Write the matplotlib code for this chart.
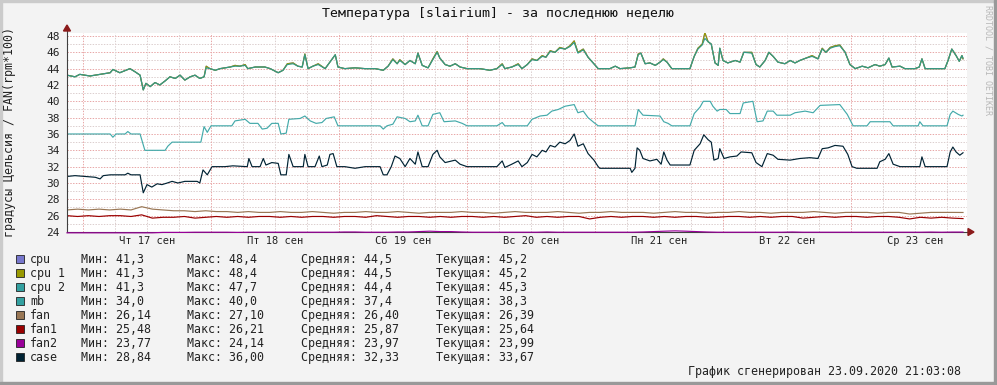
import numpy as np
import matplotlib
matplotlib.use('Agg')
import matplotlib.pyplot as plt
from matplotlib.patches import Rectangle, Polygon

plt.rcParams['font.family'] = ['DejaVu Sans Mono', 'DejaVu Sans']

# время в часах от начала окна (16.09 21:03)
FIRST_MIDNIGHT = 2.95
days = ['Чт 17 сен', 'Пт 18 сен', 'Сб 19 сен', 'Вс 20 сен', 'Пн 21 сен', 'Вт 22 сен', 'Ср 23 сен']

t_cpu = [0, 1.5, 2.4, 4.3, 6.2, 8.1, 8.6, 9.9, 11.8, 12.8,
         13.7, 14.3, 14.8, 15.6, 16.5, 17.4, 18.4, 19.3, 20.3, 21.2,
         22.1, 23.1, 24.0, 24.9, 25.7, 26.1, 26.8, 27.8, 28.7, 30.6,
         31.5, 32.4, 33.4, 33.9, 35.3, 37.1, 38.1, 39.6, 40.5, 41.3,
         42.4, 43.3, 44.1, 44.6, 45.2, 46.1, 47.1, 48.4, 49.3, 50.3,
         50.8, 52.1, 54.0, 55.9, 57.8, 59.3, 60.2, 61.1, 61.9, 62.4,
         63.4, 64.3, 65.3, 65.8, 66.6, 67.7, 68.6, 69.4, 69.9, 70.9,
         71.8, 72.8, 73.7, 75.0, 77.4, 79.3, 80.6, 81.6, 82.1, 83.4,
         84.6, 85.3, 86.3, 87.2, 88.1, 89.1, 89.8, 90.6, 91.5, 92.4,
         93.4, 94.3, 95.1, 95.8, 96.8, 97.7, 98.8, 99.6, 101.8, 102.8,
         103.7, 105.6, 106.5, 107.1, 107.6, 108.4, 109.3, 110.3, 111.2, 111.8,
         112.5, 113.4, 116.8, 117.6, 118.3, 119.1, 119.6, 120.2, 120.8, 121.5,
         122.1, 122.4, 123.0, 123.9, 125.3, 126.2, 126.9, 128.4, 129.2, 129.9,
         130.9, 131.6, 132.4, 133.3, 134.6, 135.6, 136.5, 137.4, 138.6, 139.7,
         140.8, 141.6, 142.3, 143.1, 144.0, 144.9, 145.9, 146.8, 147.8, 149.1,
         150.2, 151.5, 152.4, 153.4, 154.1, 154.7, 156.2, 157.1, 159.0, 159.8,
         160.3, 160.9, 162.8, 164.6, 165.2, 165.9, 166.7, 167.3, 167.8, 168.0]
cpu = [43.2, 43.0, 43.3, 43.1, 43.3, 43.5, 43.9, 43.5, 44.0, 43.6,
       43.2, 41.4, 42.2, 41.8, 42.3, 42.0, 42.5, 43.0, 42.8, 43.2,
       42.6, 43.0, 43.2, 42.8, 43.0, 44.3, 44.0, 43.8, 44.0, 44.2,
       44.4, 44.3, 44.5, 44.0, 44.2, 44.2, 44.0, 43.5, 43.8, 44.6,
       44.7, 44.3, 44.2, 45.8, 44.0, 44.3, 44.6, 44.0, 44.8, 45.7,
       44.2, 44.0, 44.1, 44.0, 44.0, 43.8, 44.3, 45.2, 44.6, 45.1,
       44.5, 45.0, 44.6, 45.9, 44.4, 44.1, 45.2, 46.1, 45.3, 44.5,
       44.3, 44.6, 44.2, 44.0, 44.0, 43.8, 44.0, 44.6, 44.0, 44.2,
       44.6, 44.0, 44.5, 45.2, 45.0, 45.6, 45.4, 46.2, 46.0, 46.6,
       46.4, 46.8, 47.4, 46.0, 46.4, 45.4, 44.6, 44.0, 44.0, 44.3,
       44.0, 44.1, 44.2, 45.8, 45.9, 44.6, 44.7, 44.4, 44.8, 45.2,
       44.8, 44.0, 44.0, 45.5, 46.5, 47.0, 48.4, 47.3, 47.0, 44.7,
       44.4, 46.5, 45.0, 44.7, 45.0, 44.8, 46.0, 46.0, 44.5, 44.2,
       45.0, 46.0, 45.5, 44.8, 44.6, 45.0, 44.7, 45.0, 45.3, 45.6,
       45.2, 46.5, 46.0, 46.6, 46.8, 46.9, 46.0, 44.5, 44.0, 44.3,
       44.1, 44.5, 44.3, 44.5, 45.3, 44.2, 44.3, 44.0, 44.0, 44.2,
       45.2, 44.0, 44.0, 44.0, 45.0, 46.4, 45.6, 44.9, 45.6, 45.2]
cpu_1 = list(cpu)
cpu_2 = [43.2, 43.0, 43.3, 43.1, 43.3, 43.5, 43.9, 43.5, 44.0, 43.6,
         43.2, 41.4, 42.2, 41.8, 42.3, 42.0, 42.5, 43.0, 42.8, 43.2,
         42.6, 43.0, 43.2, 42.8, 43.0, 44.1, 44.0, 43.8, 44.0, 44.2,
         44.3, 44.3, 44.4, 44.0, 44.2, 44.2, 44.0, 43.5, 43.8, 44.5,
         44.6, 44.3, 44.2, 45.7, 44.0, 44.3, 44.5, 44.0, 44.8, 45.7,
         44.2, 44.0, 44.1, 44.0, 44.0, 43.8, 44.3, 45.1, 44.6, 45.0,
         44.5, 45.0, 44.6, 45.9, 44.4, 44.1, 45.1, 46.0, 45.3, 44.5,
         44.3, 44.6, 44.2, 44.0, 44.0, 43.8, 44.0, 44.5, 44.0, 44.2,
         44.5, 44.0, 44.5, 45.1, 45.0, 45.5, 45.4, 46.1, 46.0, 46.5,
         46.4, 46.7, 47.2, 45.9, 46.3, 45.4, 44.6, 44.0, 44.0, 44.3,
         44.0, 44.1, 44.2, 45.7, 45.9, 44.6, 44.7, 44.4, 44.8, 45.1,
         44.8, 44.0, 44.0, 45.5, 46.4, 46.9, 47.7, 47.3, 47.0, 44.7,
         44.4, 46.5, 45.0, 44.7, 45.0, 44.8, 46.0, 45.9, 44.5, 44.2,
         45.0, 46.0, 45.5, 44.8, 44.6, 45.0, 44.7, 45.0, 45.3, 45.5,
         45.2, 46.4, 46.0, 46.5, 46.7, 46.8, 46.0, 44.5, 44.0, 44.3,
         44.1, 44.5, 44.3, 44.5, 45.3, 44.2, 44.3, 44.0, 44.0, 44.2,
         45.2, 44.0, 44.0, 44.0, 45.0, 46.4, 45.6, 44.9, 45.6, 45.3]

t_mb = [0, 8.1, 8.6, 9.2, 10.9, 11.4, 12.0, 13.7, 14.6, 18.4,
        18.9, 19.7, 25.1, 25.7, 26.3, 27.0, 30.9, 31.5, 33.4, 34.3,
        35.8, 36.6, 37.5, 38.4, 39.6, 40.1, 41.1, 41.6, 43.7, 44.6,
        45.6, 46.7, 47.8, 48.6, 50.1, 50.8, 58.7, 59.3, 60.0, 61.1,
        61.9, 63.4, 64.3, 65.3, 65.8, 66.6, 67.7, 68.6, 69.9, 70.7,
        72.8, 74.1, 75.0, 80.6, 81.6, 82.1, 86.3, 87.2, 88.7, 90.0,
        90.9, 92.1, 93.4, 95.1, 95.8, 96.8, 97.7, 98.8, 99.6, 106.5,
        107.1, 108.0, 111.2, 111.9, 112.7, 113.4, 116.8, 117.6, 118.7, 119.3,
        120.6, 121.1, 121.9, 122.4, 123.6, 124.3, 126.2, 126.8, 128.6, 129.4,
        130.5, 131.3, 132.4, 133.1, 135.6, 136.5, 138.4, 139.9, 141.2, 144.9,
        146.3, 147.4, 150.0, 150.6, 154.3, 154.9, 159.6, 159.9, 160.5, 165.0,
        165.6, 166.1, 167.1, 167.8, 168.0]
mb = [36.0, 36.0, 35.6, 36.0, 36.0, 36.3, 36.0, 36.0, 34.0, 34.0,
      34.5, 35.0, 35.0, 36.9, 36.2, 37.0, 37.0, 37.6, 37.8, 37.3,
      37.3, 36.6, 36.7, 37.3, 37.3, 36.0, 36.1, 37.8, 37.9, 38.2,
      37.6, 37.3, 37.4, 37.9, 38.1, 37.0, 37.0, 36.6, 37.0, 37.2,
      38.1, 37.9, 37.5, 37.6, 38.3, 37.0, 37.0, 38.4, 38.6, 37.5,
      37.6, 37.3, 37.0, 37.0, 37.4, 37.0, 37.0, 37.8, 38.2, 38.3,
      38.8, 39.0, 39.4, 39.6, 38.6, 38.8, 38.0, 37.4, 37.0, 37.0,
      39.0, 38.3, 38.2, 37.5, 37.3, 37.0, 37.0, 38.5, 39.3, 40.0,
      40.0, 39.4, 38.8, 39.0, 39.0, 38.5, 38.5, 39.8, 40.0, 37.5,
      37.6, 38.8, 38.8, 38.3, 38.3, 38.6, 38.8, 38.6, 39.5, 39.6,
      38.4, 37.0, 37.0, 37.5, 37.5, 37.0, 37.0, 37.5, 37.0, 37.0,
      38.4, 38.8, 38.4, 38.2, 38.3]

t_case = [0, 1.5, 3.4, 5.3, 6.2, 6.8, 8.1, 10.9, 11.4, 12.0,
          13.7, 14.3, 15.0, 15.9, 16.9, 17.8, 18.8, 19.7, 20.8, 22.1,
          24.4, 24.9, 25.5, 26.3, 27.2, 29.6, 31.1, 33.8, 34.1, 34.7,
          36.2, 36.8, 37.3, 38.4, 39.6, 40.1, 41.1, 41.6, 42.4, 44.3,
          44.6, 45.2, 46.5, 47.3, 47.8, 48.8, 49.3, 49.9, 50.6, 52.1,
          54.0, 55.9, 58.7, 59.3, 60.0, 60.8, 61.5, 62.4, 63.4, 64.3,
          65.3, 65.8, 66.6, 67.7, 68.6, 69.4, 69.9, 70.9, 72.8, 73.7,
          75.0, 80.6, 81.6, 82.1, 83.4, 84.6, 85.3, 86.3, 87.2, 88.1,
          89.1, 89.8, 90.6, 91.5, 92.4, 93.4, 94.3, 95.1, 95.8, 96.8,
          97.7, 98.8, 99.6, 99.9, 105.6, 105.9, 106.5, 106.9, 107.4, 108.0,
          109.3, 110.6, 111.4, 111.9, 112.5, 113.1, 116.8, 117.6, 118.7, 119.4,
          120.2, 120.8, 121.3, 122.1, 122.4, 123.2, 124.3, 125.6, 126.4, 128.4,
          129.2, 130.3, 131.3, 132.4, 133.3, 135.6, 137.4, 139.3, 140.8, 141.6,
          142.7, 144.0, 145.5, 146.4, 147.2, 148.1, 151.9, 152.4, 153.4, 154.1,
          154.9, 156.2, 159.9, 160.3, 160.9, 165.0, 165.6, 166.1, 166.7, 167.4,
          168.0]
case = [30.8, 30.9, 30.8, 30.7, 30.5, 30.9, 31.0, 31.0, 31.2, 31.0,
        31.0, 28.8, 29.8, 29.5, 29.9, 29.8, 30.0, 30.2, 30.0, 30.2,
        30.2, 30.0, 31.6, 31.0, 32.0, 32.0, 32.1, 32.0, 33.0, 32.0,
        32.0, 33.0, 32.2, 32.5, 32.4, 31.0, 31.0, 33.5, 32.0, 32.0,
        33.5, 32.0, 32.0, 33.3, 32.0, 32.2, 33.5, 33.6, 32.0, 32.0,
        31.8, 32.0, 32.0, 31.0, 31.0, 32.0, 33.3, 33.0, 32.0, 33.0,
        32.3, 33.8, 32.0, 32.0, 33.5, 34.0, 33.2, 32.5, 32.8, 32.3,
        32.0, 32.0, 32.7, 31.9, 32.3, 32.7, 32.0, 32.5, 33.5, 33.2,
        34.0, 33.8, 34.6, 34.4, 35.0, 34.8, 35.2, 36.0, 34.5, 34.8,
        33.6, 32.8, 32.0, 31.8, 31.8, 31.3, 31.8, 34.3, 34.0, 33.0,
        32.7, 32.9, 32.3, 33.8, 32.8, 32.2, 32.2, 34.0, 34.8, 35.9,
        35.3, 35.0, 32.8, 33.0, 34.2, 33.0, 33.2, 33.3, 33.8, 33.7,
        32.5, 32.0, 33.6, 33.4, 32.9, 32.8, 33.0, 33.1, 33.0, 34.2,
        34.3, 34.6, 34.5, 33.5, 32.0, 31.8, 31.8, 32.6, 32.9, 33.6,
        32.3, 32.0, 32.0, 33.2, 32.0, 32.0, 33.8, 34.4, 33.8, 33.4,
        33.7]

# вентиляторы, отсчёты каждые 2 часа
fan = [26.7, 26.8, 26.7, 26.8, 26.7, 26.8, 26.7, 27.1, 26.8, 26.7,
       26.6, 26.6, 26.5, 26.6, 26.5, 26.5, 26.4, 26.5, 26.4, 26.4,
       26.5, 26.4, 26.4, 26.5, 26.4, 26.3, 26.4, 26.4, 26.5, 26.4,
       26.4, 26.5, 26.4, 26.3, 26.4, 26.4, 26.4, 26.5, 26.4, 26.4,
       26.3, 26.4, 26.5, 26.4, 26.4, 26.4, 26.5, 26.4, 26.3, 26.4,
       26.4, 26.5, 26.4, 26.4, 26.4, 26.3, 26.4, 26.5, 26.4, 26.4,
       26.3, 26.4, 26.4, 26.5, 26.4, 26.4, 26.3, 26.4, 26.4, 26.4,
       26.5, 26.4, 26.3, 26.4, 26.4, 26.4, 26.3, 26.4, 26.4, 26.2,
       26.3, 26.4, 26.4, 26.4, 26.39]
fan1 = [26.0, 25.9, 26.0, 25.9, 26.0, 26.0, 25.9, 26.1, 25.7, 25.8,
        25.8, 25.9, 25.7, 25.8, 25.9, 25.8, 25.9, 25.8, 25.9, 25.9,
        25.8, 25.9, 25.8, 25.9, 25.9, 25.8, 25.9, 25.9, 25.8, 26.0,
        25.9, 25.8, 25.9, 25.9, 25.8, 25.9, 25.8, 25.9, 25.9, 25.8,
        25.9, 25.8, 25.9, 26.0, 25.8, 25.9, 25.8, 25.9, 25.9, 25.6,
        25.8, 25.9, 25.8, 25.9, 25.9, 25.8, 25.9, 25.8, 25.9, 25.9,
        25.8, 25.8, 25.9, 25.9, 25.8, 25.9, 25.8, 25.9, 25.9, 25.7,
        25.8, 25.9, 25.8, 25.9, 25.9, 25.8, 25.9, 25.9, 25.8, 25.6,
        25.8, 25.7, 25.8, 25.7, 25.64]
fan2 = [23.9, 23.9, 23.9, 23.9, 23.9, 23.9, 23.9, 23.9, 23.9, 23.95,
        23.95, 23.95, 23.97, 23.97, 23.97, 23.97, 23.95, 23.97, 23.97, 23.97,
        23.97, 23.97, 23.97, 23.97, 23.97, 23.97, 24.0, 24.0, 23.97, 23.97,
        23.97, 24.0, 24.0, 24.05, 24.1, 24.05, 24.05, 24.0, 23.97, 23.97,
        23.97, 23.97, 23.97, 23.97, 23.97, 24.0, 23.97, 23.97, 23.97, 23.97,
        23.97, 23.97, 23.97, 23.97, 24.0, 24.05, 24.1, 24.14, 24.1, 24.05,
        24.0, 23.97, 23.97, 23.97, 23.97, 23.97, 23.97, 23.97, 24.0, 23.97,
        23.97, 23.97, 23.97, 23.97, 23.97, 23.97, 23.97, 23.97, 23.97, 23.97,
        23.97, 23.99, 23.97, 23.99, 23.99]

names = ['cpu', 'cpu 1', 'cpu 2', 'mb', 'fan', 'fan1', 'fan2', 'case']
colors = ['#7777CC', '#999900', '#339988', '#44AAAA', '#997755', '#990000', '#990099', '#002233']
swatch_colors = ['#7777CC', '#999900', '#33A0A0', '#33A0A0', '#997755', '#990000', '#990099', '#002233']
mins = ['41,3', '41,3', '41,3', '34,0', '26,14', '25,48', '23,77', '28,84']
maxs = ['48,4', '48,4', '47,7', '40,0', '27,10', '26,21', '24,14', '36,00']
avgs = ['44,5', '44,5', '44,4', '37,4', '26,40', '25,87', '23,97', '32,33']
curs = ['45,2', '45,2', '45,3', '38,3', '26,39', '25,64', '23,99', '33,67']

assert len(t_cpu) == len(cpu) == len(cpu_2)
assert len(t_mb) == len(mb)
assert len(t_case) == len(case)

W, H = 997, 385
BG = '#F3F3F3'
LW = 0.85


def fx(x):
    return x / W


def fy(y):
    return 1 - y / H


fig = plt.figure(figsize=(W / 100, H / 100), dpi=100, facecolor=BG)

# рамка
fig.patches.append(Rectangle((0, 1 - 2 / H), 1, 2 / H, transform=fig.transFigure, color='#CBCBCB'))
fig.patches.append(Rectangle((0, 0), 2 / W, 1, transform=fig.transFigure, color='#CBCBCB'))
fig.patches.append(Rectangle((0, 0), 1, 3 / H, transform=fig.transFigure, color='#999999'))
fig.patches.append(Rectangle((1 - 3 / W, 0), 3 / W, 1, transform=fig.transFigure, color='#999999'))

top_px = 32.7
ax = fig.add_axes([fx(67), fy(232), fx(900), (232 - top_px) / H])
ax.set_facecolor('white')
ax.set_xlim(0, 168.75)
ax.set_ylim(24, 48.4)

# сетка
dot = (0, (1.4, 1.4))
for v in range(25, 49):
    c = '#E8A8A8' if v % 2 == 0 else '#DCCFCF'
    ax.axhline(v, color=c, lw=0.72, ls=dot, zorder=0)
h = FIRST_MIDNIGHT
k = 0
while h < 168.75:
    ax.axvline(h, color='#E8A8A8' if k % 4 == 0 else '#DCCFCF', lw=0.72, ls=dot, zorder=0)
    h += 6
    k += 1

# оси (со стрелками ниже)
axis_c = '#404040'
arrow_c = '#8B1A1A'
ax.plot([0, 0], [0, 1.0 + 2.7 / (232 - top_px)], transform=ax.transAxes, color=axis_c, lw=0.8,
        clip_on=False, zorder=3)
ax.plot([0, 902 / 900], [0, 0], transform=ax.transAxes, color=axis_c, lw=0.8, clip_on=False, zorder=3)

ax.plot(t_cpu, cpu, color=colors[0], lw=LW)
ax.plot(t_cpu, cpu_1, color=colors[1], lw=LW)
ax.plot(t_cpu, cpu_2, color=colors[2], lw=LW)
ax.plot(t_mb, mb, color=colors[3], lw=LW)
t_fan = np.linspace(0, 168, len(fan))
ax.plot(t_fan, fan, color=colors[4], lw=LW)
ax.plot(t_fan, fan1, color=colors[5], lw=LW)
ax.plot(t_fan, fan2, color=colors[6], lw=LW, clip_on=False, zorder=4)
ax.plot(t_case, case, color=colors[7], lw=LW)

for s in ax.spines.values():
    s.set_visible(False)

ax.set_yticks(range(24, 49, 2))
ax.set_xticks([FIRST_MIDNIGHT + 12 + 24 * i for i in range(len(days))])
ax.set_xticklabels(days)
ax.tick_params(axis='y', length=0, pad=5, labelsize=8, colors='#222222')
ax.tick_params(axis='x', length=0, pad=3, labelsize=7.5, colors='#222222')

fig.patches.append(Polygon([(fx(67), fy(25)), (fx(63.5), fy(31)), (fx(70.5), fy(31))],
                           closed=True, transform=fig.transFigure, color=arrow_c))
fig.patches.append(Polygon([(fx(974), fy(232)), (fx(968), fy(228.5)), (fx(968), fy(235.5))],
                           closed=True, transform=fig.transFigure, color=arrow_c))

fig.text(fx(497.5), fy(14), 'Температура [slairium] - за последнюю неделю',
         ha='center', va='center', fontsize=9.5, color='#111111')
fig.text(fx(10), fy(132), 'градусы Цельсия / FAN(rpm*100)', rotation=90,
         ha='center', va='center', fontsize=8.4, color='#222222')
fig.text(fx(988), fy(5), 'RRDTOOL / TOBI OETIKER', rotation=270,
         ha='center', va='top', fontsize=6, color='#B8B8B8')

# легенда
for i, name in enumerate(names):
    y = 259.3 + 14 * i
    fig.patches.append(Rectangle((fx(15.5), fy(y + 4)), 8 / W, 8 / H, transform=fig.transFigure,
                                 facecolor=swatch_colors[i], edgecolor='#222222', lw=0.6))
    fig.text(fx(30), fy(y), name, ha='left', va='center', fontsize=8.4, color='#222222')
    fig.text(fx(80.5), fy(y), 'Мин: ' + mins[i], ha='left', va='center', fontsize=8.4, color='#222222')
    fig.text(fx(187), fy(y), 'Макс: ' + maxs[i], ha='left', va='center', fontsize=8.4, color='#222222')
    fig.text(fx(301), fy(y), 'Средняя: ' + avgs[i], ha='left', va='center', fontsize=8.4, color='#222222')
    fig.text(fx(436), fy(y), 'Текущая: ' + curs[i], ha='left', va='center', fontsize=8.4, color='#222222')

fig.text(fx(961), fy(371), 'График сгенерирован 23.09.2020 21:03:08',
         ha='right', va='center', fontsize=8.4, color='#222222')

fig.savefig('out.png', dpi=100, facecolor=BG)
